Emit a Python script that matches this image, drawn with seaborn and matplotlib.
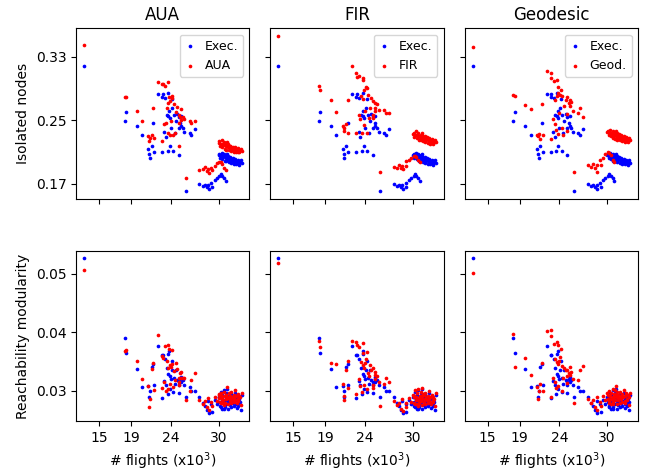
import matplotlib
matplotlib.use("Agg")
import matplotlib.pyplot as plt
import seaborn as sns
import pandas as pd

# number of flights (x10^3) per day
flights = [13.1,
           18.2, 18.4, 19.7, 20.4,
           21.2, 21.3, 21.4, 21.6, 21.8, 21.9, 22.4, 22.9, 22.9, 23.0,
           23.3, 23.7, 24.2, 24.1, 23.5, 23.7, 23.9, 24.4, 24.8, 25.0,
           25.3, 25.2, 25.3, 25.0, 25.5, 23.2, 23.4, 23.6, 23.9, 24.3,
           25.0, 25.7, 26.4, 26.6, 27.0, 25.9, 24.0, 24.5, 23.8, 24.6,
           27.6, 28.0, 28.25, 28.5, 28.7, 28.8, 29.1, 29.2, 29.5, 29.8,
           30.1, 30.3, 30.46, 30.7, 30.9,
           30.0, 30.1, 30.2, 30.3, 30.4, 30.5, 30.5, 30.6, 30.7, 30.8,
           30.8, 30.9, 31.0, 31.0, 31.1, 31.2, 31.2, 31.3, 31.4, 31.4,
           31.5, 31.6, 31.6, 31.7, 31.8, 31.9, 31.9, 32.0, 32.1, 32.2,
           32.2, 32.3, 32.4, 32.5, 32.5, 32.6, 32.7, 32.8, 32.9, 31.1]

iso_exec = [0.3187,
            0.2485, 0.2604, 0.2430, 0.2320,
            0.2138, 0.2078, 0.2028, 0.2175, 0.2460, 0.2100, 0.2834, 0.2796, 0.2095, 0.2825,
            0.2783, 0.2838, 0.2762, 0.2658, 0.2560, 0.2557, 0.2530, 0.2570, 0.2580, 0.2545,
            0.2550, 0.2470, 0.2430, 0.2408, 0.2408, 0.2346, 0.2290, 0.2110, 0.2179, 0.2110,
            0.2057, 0.2355, 0.2343, 0.2320, 0.2385, 0.1610, 0.2400, 0.2345, 0.2620, 0.2490,
            0.1692, 0.1672, 0.1690, 0.1658, 0.1684, 0.1630, 0.1713, 0.1659, 0.1742, 0.1776,
            0.1797, 0.1818, 0.1797, 0.1767, 0.1734,
            0.2065, 0.2080, 0.2025, 0.2050, 0.2090, 0.2010, 0.2060, 0.2035, 0.2075, 0.1990,
            0.2045, 0.2020, 0.2060, 0.1985, 0.2030, 0.2005, 0.2050, 0.1970, 0.2025, 0.1995,
            0.2040, 0.1960, 0.2010, 0.1985, 0.2025, 0.1950, 0.2000, 0.1975, 0.2015, 0.1945,
            0.1990, 0.1965, 0.2000, 0.1955, 0.1985, 0.1940, 0.1970, 0.1995, 0.1960, 0.2070]

iso_aua = [0.3447,
           0.2790, 0.2792, 0.2620, 0.2490,
           0.2300, 0.2238, 0.2280, 0.2320, 0.2654, 0.2280, 0.2985, 0.2958, 0.2233, 0.2960,
           0.2925, 0.2981, 0.2810, 0.2775, 0.2658, 0.2720, 0.2745, 0.2710, 0.2667, 0.2560,
           0.2640, 0.2535, 0.2500, 0.2470, 0.2545, 0.2456, 0.2470, 0.2343, 0.2320, 0.2310,
           0.2175, 0.2515, 0.2490, 0.2465, 0.2485, 0.1776, 0.2495, 0.2345, 0.2795, 0.2605,
           0.1870, 0.1880, 0.1910, 0.1860, 0.1890, 0.1840, 0.1900, 0.1870, 0.1920, 0.1960,
           0.1980, 0.1975, 0.1950, 0.1900, 0.1870,
           0.2215, 0.2240, 0.2170, 0.2200, 0.2255, 0.2165, 0.2195, 0.2190, 0.2230, 0.2140,
           0.2185, 0.2175, 0.2210, 0.2130, 0.2175, 0.2160, 0.2195, 0.2120, 0.2170, 0.2150,
           0.2180, 0.2110, 0.2160, 0.2140, 0.2165, 0.2105, 0.2150, 0.2120, 0.2160, 0.2095,
           0.2140, 0.2115, 0.2145, 0.2105, 0.2130, 0.2095, 0.2120, 0.2140, 0.2110, 0.2225]

iso_fir = [0.3560,
           0.2935, 0.2884, 0.2750, 0.2600,
           0.2430, 0.2360, 0.2400, 0.2450, 0.2755, 0.2345, 0.3178, 0.3100, 0.2340, 0.3040,
           0.3060, 0.3010, 0.2900, 0.2920, 0.2800, 0.2770, 0.2880, 0.2820, 0.2780, 0.2740,
           0.2720, 0.2660, 0.2620, 0.2530, 0.2700, 0.2570, 0.2510, 0.2340, 0.2440, 0.2340,
           0.2570, 0.2630, 0.2630, 0.2590, 0.2590, 0.1848, 0.2620, 0.2530, 0.3030, 0.2660,
           0.1910, 0.1900, 0.1930, 0.1895, 0.1925, 0.1890, 0.1990, 0.1920, 0.2000, 0.2030,
           0.2050, 0.2055, 0.2040, 0.2000, 0.1980,
           0.2330, 0.2345, 0.2290, 0.2310, 0.2360, 0.2270, 0.2320, 0.2300, 0.2340, 0.2255,
           0.2305, 0.2285, 0.2320, 0.2245, 0.2290, 0.2270, 0.2310, 0.2235, 0.2285, 0.2255,
           0.2300, 0.2220, 0.2270, 0.2245, 0.2285, 0.2210, 0.2260, 0.2235, 0.2275, 0.2205,
           0.2250, 0.2225, 0.2260, 0.2215, 0.2245, 0.2200, 0.2230, 0.2255, 0.2220, 0.2335]

iso_geo = [0.3417,
           0.2813, 0.2800, 0.2687, 0.2645,
           0.2320, 0.2300, 0.2325, 0.2260, 0.2708, 0.2310, 0.3115, 0.3100, 0.2260, 0.3030,
           0.2997, 0.3010, 0.2880, 0.2820, 0.2750, 0.2810, 0.2840, 0.2800, 0.2760, 0.2790,
           0.2750, 0.2720, 0.2680, 0.2580, 0.2730, 0.2520, 0.2450, 0.2380, 0.2330, 0.2400,
           0.2360, 0.2620, 0.2590, 0.2650, 0.2545, 0.1848, 0.2595, 0.2320, 0.2920, 0.2680,
           0.1930, 0.1910, 0.1950, 0.1900, 0.1940, 0.1850, 0.2000, 0.1940, 0.2020, 0.2080,
           0.2100, 0.2090, 0.2060, 0.2000, 0.1970,
           0.2355, 0.2370, 0.2310, 0.2335, 0.2380, 0.2295, 0.2345, 0.2320, 0.2365, 0.2275,
           0.2330, 0.2305, 0.2345, 0.2265, 0.2315, 0.2290, 0.2335, 0.2255, 0.2310, 0.2280,
           0.2325, 0.2245, 0.2295, 0.2270, 0.2310, 0.2235, 0.2285, 0.2260, 0.2300, 0.2225,
           0.2275, 0.2250, 0.2285, 0.2240, 0.2270, 0.2225, 0.2255, 0.2280, 0.2245, 0.2360]

mod_exec = [0.0526,
            0.0391, 0.0365, 0.0337, 0.0306,
            0.0309, 0.0290, 0.0300, 0.0341, 0.0346, 0.0311, 0.0377, 0.0362, 0.0288, 0.0362,
            0.0355, 0.0363, 0.0351, 0.0335, 0.0340, 0.0329, 0.0326, 0.0322, 0.0318, 0.0315,
            0.0324, 0.0320, 0.0315, 0.0310, 0.0318, 0.0317, 0.0310, 0.0295, 0.0304, 0.0299,
            0.0296, 0.0310, 0.0306, 0.0300, 0.0300, 0.0289, 0.0320, 0.0312, 0.0368, 0.0335,
            0.0289, 0.0280, 0.0275, 0.0268, 0.0283, 0.0262, 0.0278, 0.0265, 0.0284, 0.0277,
            0.0290, 0.0272, 0.0281, 0.0270, 0.0286,
            0.0290, 0.0282, 0.0275, 0.0298, 0.0286, 0.0270, 0.0293, 0.0279, 0.0301, 0.0284,
            0.0273, 0.0290, 0.0296, 0.0278, 0.0287, 0.0269, 0.0283, 0.0292, 0.0276, 0.0288,
            0.0281, 0.0272, 0.0295, 0.0285, 0.0279, 0.0289, 0.0274, 0.0283, 0.0297, 0.0277,
            0.0286, 0.0271, 0.0291, 0.0280, 0.0275, 0.0287, 0.0282, 0.0268, 0.0293, 0.0303]

mod_aua = [0.0507,
           0.0368, 0.0370, 0.0352, 0.0320,
           0.0309, 0.0273, 0.0287, 0.0338, 0.0347, 0.0302, 0.0395, 0.0360, 0.0305, 0.0357,
           0.0377, 0.0378, 0.0370, 0.0346, 0.0352, 0.0340, 0.0345, 0.0334, 0.0337, 0.0322,
           0.0333, 0.0330, 0.0322, 0.0316, 0.0323, 0.0316, 0.0300, 0.0303, 0.0312, 0.0307,
           0.0310, 0.0323, 0.0300, 0.0318, 0.0330, 0.0284, 0.0341, 0.0318, 0.0372, 0.0348,
           0.0285, 0.0278, 0.0283, 0.0272, 0.0288, 0.0267, 0.0281, 0.0274, 0.0290, 0.0283,
           0.0293, 0.0279, 0.0286, 0.0276, 0.0289,
           0.0295, 0.0288, 0.0282, 0.0296, 0.0291, 0.0279, 0.0289, 0.0285, 0.0299, 0.0291,
           0.0280, 0.0294, 0.0293, 0.0286, 0.0290, 0.0277, 0.0288, 0.0297, 0.0283, 0.0292,
           0.0287, 0.0280, 0.0298, 0.0290, 0.0285, 0.0294, 0.0281, 0.0288, 0.0301, 0.0284,
           0.0291, 0.0279, 0.0295, 0.0286, 0.0283, 0.0292, 0.0289, 0.0276, 0.0296, 0.0306]

mod_fir = [0.0518,
           0.0385, 0.0375, 0.0347, 0.0346,
           0.0312, 0.0285, 0.0292, 0.0335, 0.0352, 0.0305, 0.0386, 0.0383, 0.0295, 0.0378,
           0.0375, 0.0382, 0.0366, 0.0355, 0.0350, 0.0344, 0.0340, 0.0331, 0.0336, 0.0340,
           0.0328, 0.0333, 0.0320, 0.0311, 0.0325, 0.0320, 0.0308, 0.0298, 0.0310, 0.0303,
           0.0305, 0.0315, 0.0312, 0.0322, 0.0316, 0.0275, 0.0348, 0.0326, 0.0365, 0.0345,
           0.0283, 0.0276, 0.0280, 0.0270, 0.0286, 0.0266, 0.0279, 0.0272, 0.0288, 0.0281,
           0.0291, 0.0277, 0.0284, 0.0274, 0.0287,
           0.0293, 0.0290, 0.0280, 0.0301, 0.0289, 0.0277, 0.0296, 0.0284, 0.0304, 0.0288,
           0.0279, 0.0292, 0.0299, 0.0283, 0.0291, 0.0276, 0.0287, 0.0295, 0.0281, 0.0293,
           0.0286, 0.0278, 0.0297, 0.0289, 0.0284, 0.0292, 0.0280, 0.0287, 0.0300, 0.0282,
           0.0290, 0.0277, 0.0294, 0.0285, 0.0281, 0.0290, 0.0286, 0.0275, 0.0296, 0.0305]

mod_geo = [0.0501,
           0.0397, 0.0341, 0.0357, 0.0327,
           0.0306, 0.0287, 0.0300, 0.0312, 0.0348, 0.0300, 0.0403, 0.0404, 0.0290, 0.0394,
           0.0380, 0.0384, 0.0371, 0.0358, 0.0355, 0.0349, 0.0346, 0.0342, 0.0335, 0.0336,
           0.0341, 0.0330, 0.0327, 0.0325, 0.0332, 0.0322, 0.0315, 0.0305, 0.0309, 0.0300,
           0.0313, 0.0320, 0.0319, 0.0335, 0.0343, 0.0280, 0.0352, 0.0322, 0.0378, 0.0339,
           0.0287, 0.0279, 0.0284, 0.0273, 0.0289, 0.0268, 0.0282, 0.0275, 0.0291, 0.0284,
           0.0294, 0.0280, 0.0287, 0.0277, 0.0290,
           0.0296, 0.0287, 0.0283, 0.0300, 0.0292, 0.0278, 0.0297, 0.0286, 0.0303, 0.0290,
           0.0281, 0.0295, 0.0301, 0.0285, 0.0293, 0.0277, 0.0290, 0.0298, 0.0284, 0.0294,
           0.0288, 0.0280, 0.0299, 0.0291, 0.0286, 0.0295, 0.0282, 0.0289, 0.0302, 0.0283,
           0.0292, 0.0279, 0.0296, 0.0287, 0.0284, 0.0293, 0.0290, 0.0276, 0.0297, 0.0308]

titles = ["AUA", "FIR", "Geodesic"]
legend_labels = ["AUA", "FIR", "Geod."]
row_labels = ["Isolated nodes", "Reachability modularity"]
x_ticks = [15, 19, 24, 30]
iso_ticks = [0.17, 0.25, 0.33]
mod_ticks = [0.03, 0.04, 0.05]

df = pd.DataFrame({"flights": flights,
                   "iso_exec": iso_exec, "iso_aua": iso_aua, "iso_fir": iso_fir, "iso_geo": iso_geo,
                   "mod_exec": mod_exec, "mod_aua": mod_aua, "mod_fir": mod_fir, "mod_geo": mod_geo})

fig, axes = plt.subplots(2, 3, figsize=(6.51, 4.72), dpi=100, sharex=True, sharey="row")
fig.subplots_adjust(left=0.117, right=0.98, top=0.94, bottom=0.108, wspace=0.121, hspace=0.306)

red_cols = [["iso_aua", "iso_fir", "iso_geo"], ["mod_aua", "mod_fir", "mod_geo"]]
exec_cols = ["iso_exec", "mod_exec"]

for r in range(2):
    for c in range(3):
        ax = axes[r, c]
        sns.scatterplot(data=df, x="flights", y=exec_cols[r], color="blue", s=7,
                        linewidth=0, label="Exec.", ax=ax)
        sns.scatterplot(data=df, x="flights", y=red_cols[r][c], color="red", s=7,
                        linewidth=0, label=legend_labels[c], ax=ax)
        ax.set_xlabel("")
        ax.set_ylabel("")
        if r == 0:
            ax.set_title(titles[c], fontsize=12)
            ax.legend(loc="upper right", fontsize=9, handlelength=0.8,
                      handletextpad=0.8, borderpad=0.4, borderaxespad=0.5)
        else:
            ax.get_legend().remove()
            ax.set_xlabel("# flights (x10$^3$)", fontsize=10)
        ax.tick_params(labelsize=10)

axes[0, 0].set_ylabel(row_labels[0], fontsize=10)
axes[1, 0].set_ylabel(row_labels[1], fontsize=10)
axes[0, 0].set_yticks(iso_ticks)
axes[0, 0].set_yticklabels([f"{v:.2f}" for v in iso_ticks])
axes[1, 0].set_yticks(mod_ticks)
axes[1, 0].set_yticklabels([f"{v:.2f}" for v in mod_ticks])
axes[1, 0].set_xticks(x_ticks)
axes[1, 0].set_xticklabels([str(v) for v in x_ticks])

fig.savefig("out.png", dpi=100)
